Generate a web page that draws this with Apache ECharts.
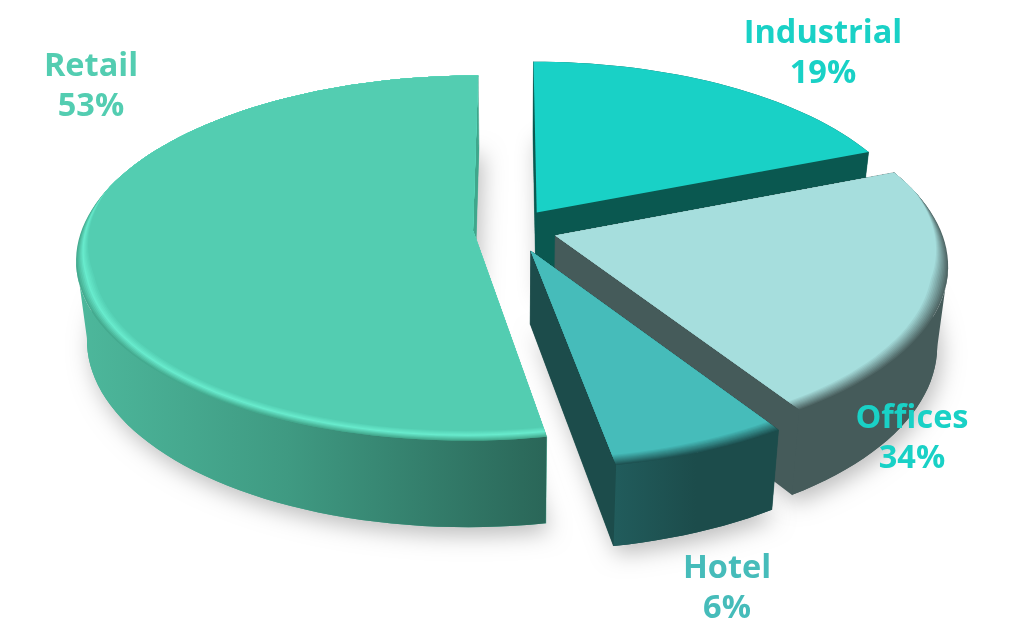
<!DOCTYPE html>
<html>
<head>
<meta charset="utf-8">
<style>html,body{margin:0;padding:0;background:#fff}#c{width:1011px;height:619px}</style>
<script src="https://cdn.jsdelivr.net/npm/echarts@6/dist/echarts.min.js"></script>
</head>
<body>
<div id="c"></div>
<script>
// Categories in drawing order (clockwise from 12 o'clock)
const categories = ['Industrial', 'Offices', 'Hotel', 'Retail'];
// Slice sizes as drawn in the picture (percent of the circle)
const sliceShares = [19, 22, 6.2, 52.8];
// Percentages printed on the labels of the picture
const printedPercents = [19, 34, 6, 53];

// Style tables
const topColors = ['#19D1C6', '#A6DEDD', '#46BCBA', '#53CDB1'];
const labelColors = ['#19D1C6', '#19D1C6', '#46BCBA', '#53CDB1'];
const cutColors = ['#0A5850', '#455B5A', '#1C4C4B', '#3FA78C'];
const wallStops = [
  [[0, '#0A5850'], [1, '#0A5850']],
  [[0, '#455B5A'], [1, '#455B5A']],
  [[0, '#215C5C'], [0.5, '#1C4C4B'], [1, '#1C4C4B']],
  [[0, '#4DB89C'], [0.45, '#3F9A82'], [1, '#2A6658']]
];
const bevelStops = [
  null,
  [[0, '#A6DEDD'], [1, '#4F6665']],
  [[0, '#46BCBA'], [1, '#1F5454']],
  [[0, '#53CDB1'], [0.5, '#68EBCD'], [1, '#45AB90']]
];
const explode = [0.114, 0.116, 0.13, 0.10];
const widthScale = [0.98, 0.985, 1, 1];
const depthScale = [1, 1, 0.93, 1];
const labelAnchors = [[823, 54], [912, 439], [727, 589], [91, 87]];

// Perspective model of the tilted disc
const CX = 512, CY = 229, RX = 391, RY = 178, P = 0.15, DEPTH = 78, BASE = 0.975, BEVEL = 0.04;
const rad = d => d * Math.PI / 180;

function project(u, v, low, depth) {
  const w = 1 / (1 - P * v), s = low ? BASE : 1;
  return [CX + RX * u * w * s, CY + RY * v * w * s + (low ? DEPTH * depth * w : 0)];
}
function mix(stops, t) {
  let a = stops[0], b = stops[stops.length - 1];
  for (let i = 0; i < stops.length - 1; i++) if (t >= stops[i][0] && t <= stops[i + 1][0]) { a = stops[i]; b = stops[i + 1]; break; }
  const k = b[0] === a[0] ? 0 : (t - a[0]) / (b[0] - a[0]);
  const h = (c, i) => parseInt(c.substr(1 + i * 2, 2), 16);
  return 'rgb(' + [0, 1, 2].map(i => Math.round(h(a[1], i) + (h(b[1], i) - h(a[1], i)) * k)).join(',') + ')';
}
const total = sliceShares.reduce((a, b) => a + b, 0);
const starts = sliceShares.map((_, i) => sliceShares.slice(0, i).reduce((a, b) => a + b, 0) / total * 360);

function renderItem(params, api) {
  const i = api.value(0), share = api.value(1);
  const a0 = starts[i], a1 = a0 + share / total * 360, mid = (a0 + a1) / 2;
  const ex = Math.sin(rad(mid)) * explode[i], ey = -Math.cos(rad(mid)) * explode[i];
  const pt = (deg, r, low) => project(ex + Math.sin(rad(deg)) * r * widthScale[i], ey - Math.cos(rad(deg)) * r, low, depthScale[i]);
  const angles = [];
  const n = Math.ceil((a1 - a0) / 2);
  for (let k = 0; k <= n; k++) angles.push(a0 + (a1 - a0) * k / n);
  const apexT = pt(0, 0, false), apexB = pt(0, 0, true);
  const arcT = angles.map(a => pt(a, 1, false));
  const arcB = angles.map(a => pt(a, 1, true));
  const poly = (points, style) => ({ type: 'polygon', shape: { points }, style });
  const children = [];
  // soft drop shadow of the base of the solid
  children.push(poly([apexB].concat(arcB), { fill: cutColors[i], shadowBlur: 22, shadowColor: 'rgba(0,0,0,0.26)', shadowOffsetX: 4, shadowOffsetY: 8 }));
  // cut faces
  children.push(poly([apexT, arcT[0], arcB[0], apexB], { fill: cutColors[i], stroke: cutColors[i], lineWidth: 0.5 }));
  children.push(poly([apexT, arcT[n], arcB[n], apexB], { fill: cutColors[i], stroke: cutColors[i], lineWidth: 0.5 }));
  // outer wall: only the stretch between the left-most and right-most points of the rim faces the viewer
  let kMin = 0, kMax = 0;
  arcT.forEach((p, k) => { if (p[0] < arcT[kMin][0]) kMin = k; if (p[0] > arcT[kMax][0]) kMax = k; });
  const k0 = Math.min(kMin, kMax), k1 = Math.max(kMin, kMax);
  children.push(poly(arcT.slice(k0, k1 + 1).concat(arcB.slice(k0, k1 + 1).reverse()), {
    fill: new echarts.graphic.LinearGradient(0, 0, 1, 0, wallStops[i].map(s => ({ offset: s[0], color: s[1] })))
  }));
  // top face with rim shading that fades out toward the back of the disc
  const stops = bevelStops[i];
  if (!stops) {
    children.push(poly([apexT].concat(arcT), { fill: topColors[i] }));
  } else {
    const steps = 10;
    for (let j = steps; j >= 0; j--) {
      const t = j / steps;
      const ring = angles.map(a => {
        const v = -Math.cos(rad(a));
        const f = Math.max(0, Math.min(1, (v + 0.25) / 0.5));
        return pt(a, 1 - BEVEL * (1 - t) * f, false);
      });
      children.push(poly([apexT].concat(ring), { fill: mix(stops, t) }));
    }
  }
  // label
  children.push({
    type: 'text', z2: 50,
    style: {
      x: labelAnchors[i][0], y: labelAnchors[i][1],
      text: categories[i] + '\n' + printedPercents[i] + '%',
      align: 'center', verticalAlign: 'middle', lineHeight: 40,
      font: 'bold 32.5px "Open Sans", sans-serif', fill: labelColors[i]
    }
  });
  return { type: 'group', children };
}

const chart = echarts.init(document.getElementById('c'), null, { renderer: 'canvas', width: 1011, height: 619 });
chart.setOption({
  backgroundColor: '#ffffff',
  animation: false,
  series: [{
    type: 'custom',
    coordinateSystem: 'none',
    renderItem,
    data: categories.map((name, i) => ({ name, value: [i, sliceShares[i]] }))
  }]
});
</script>
</body>
</html>
